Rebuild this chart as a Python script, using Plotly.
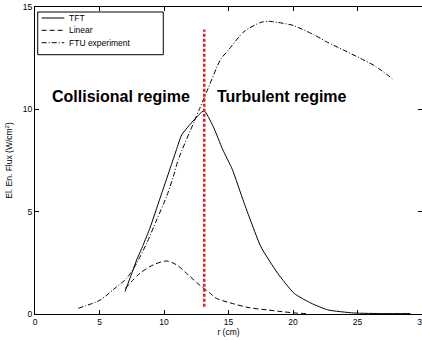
import plotly.graph_objects as go

# ---- data ----
tft_r = [6.98, 7.6, 7.88, 8.37, 8.91, 9.69, 10.47, 10.97, 11.37, 12.25, 13.1,
         13.8, 14.55, 15.3, 16.2, 17.5, 18.8, 20.1, 21.4, 22.7, 24.7, 27.0, 29.1]
tft_v = [1.1, 2.15, 2.64, 3.35, 4.2, 5.65, 7.1, 8.04, 8.75, 9.43, 9.93,
         9.18, 8.04, 7.06, 5.44, 3.3, 2.0, 1.0, 0.53, 0.2, 0.05, 0.02, 0.02]

lin_r = [7.0, 8.14, 9.17, 10.2, 10.98, 11.88, 12.75, 13.6, 14.05, 15.1, 16.6,
         18.0, 19.2, 20.2, 21.0]
lin_v = [1.25, 1.99, 2.4, 2.59, 2.4, 1.91, 1.42, 1.0, 0.77, 0.55, 0.31,
         0.2, 0.11, 0.05, 0.02]

ftu_r = [3.36, 5.04, 6.33, 7.1, 7.88, 8.66, 9.43, 10.2, 10.72, 11.1, 12.3,
         12.74, 13.4, 14.4, 15.0, 16.2, 17.5, 18.1, 18.8, 20.0, 21.6, 22.6,
         23.9, 25.2, 26.4, 27.7]
ftu_v = [0.28, 0.68, 1.33, 1.74, 2.48, 3.46, 4.6, 5.74, 6.71, 7.53, 9.35,
         10.0, 11.0, 12.45, 12.9, 13.8, 14.25, 14.3, 14.25, 14.1, 13.65, 13.3,
         12.9, 12.5, 12.1, 11.5]

boundary_r = [13.12, 13.12]
boundary_v = [0.35, 13.9]

series_names = ["TFT", "Linear", "FTU experiment"]
regime_labels = ["Collisional regime", "Turbulent regime"]
regime_r = [6.63, 19.15]
regime_v = [10.65, 10.65]

x_ticks = [0, 5, 10, 15, 20, 25, 30]
y_ticks = [0, 5, 10, 15]

FONT = "Liberation Sans, Arial, Helvetica, sans-serif"
dashes = ["solid", "5px,3px", "5px,2px,1px,2px"]
smooth = [0.5, 0.9, 0.7]

fig = go.Figure()
for r, v, name, d, s in zip([tft_r, lin_r, ftu_r], [tft_v, lin_v, ftu_v], series_names, dashes, smooth):
    fig.add_trace(go.Scatter(x=r, y=v, mode="lines", name=name, showlegend=False,
                             line=dict(color="black", width=1, dash=d,
                                       shape="spline", smoothing=s)))

fig.add_trace(go.Scatter(x=boundary_r, y=boundary_v, mode="lines", showlegend=False,
                         line=dict(color="#e0221c", width=2.5, dash="3px,2px")))

for txt, x, y in zip(regime_labels, regime_r, regime_v):
    fig.add_annotation(x=x, y=y, xref="x", yref="y", text="<b>" + txt + "</b>",
                       showarrow=False, font=dict(family=FONT, size=16, color="black"),
                       xanchor="center", yanchor="middle")

# manual legend (MATLAB-style box)
fig.add_shape(type="rect", xref="paper", yref="paper", x0=0.007, x1=0.3315,
              y0=0.8446, y1=0.9837, line=dict(color="black", width=1),
              fillcolor="white", layer="above")
rows_y = [0.9642, 0.9241, 0.8837]
for name, d, yy in zip(series_names, dashes, rows_y):
    fig.add_shape(type="line", xref="paper", yref="paper", x0=0.0173, x1=0.0757,
                  y0=yy, y1=yy, line=dict(color="black", width=1, dash=d), layer="above")
    fig.add_annotation(x=0.083, y=yy, xref="paper", yref="paper", text=name,
                       showarrow=False, xanchor="left", yanchor="middle",
                       font=dict(family=FONT, size=8.5, color="black"))

axis_common = dict(showline=True, linecolor="black", linewidth=1, mirror="ticks",
                   ticks="inside", ticklen=4, tickcolor="black", tickwidth=1,
                   showgrid=False, zeroline=False,
                   tickfont=dict(family=FONT, size=8.5, color="black"),
                   ticklabeloverflow="allow",
                   automargin=False)

fig.update_layout(
    width=422, height=340,
    margin=dict(l=35, r=0, t=7, b=26),
    paper_bgcolor="white", plot_bgcolor="white",
    font=dict(family=FONT, size=8.5, color="black"),
    xaxis=dict(range=[0, 30], tickvals=x_ticks,
               title=dict(text="r (cm)", font=dict(family=FONT, size=8.5), standoff=2),
               **axis_common),
    yaxis=dict(range=[0, 15], tickvals=y_ticks,
               title=dict(text="El. En. Flux (W/cm<sup>2</sup>)", font=dict(family=FONT, size=8.5), standoff=8),
               **axis_common),
)

fig.write_html("out.html")
